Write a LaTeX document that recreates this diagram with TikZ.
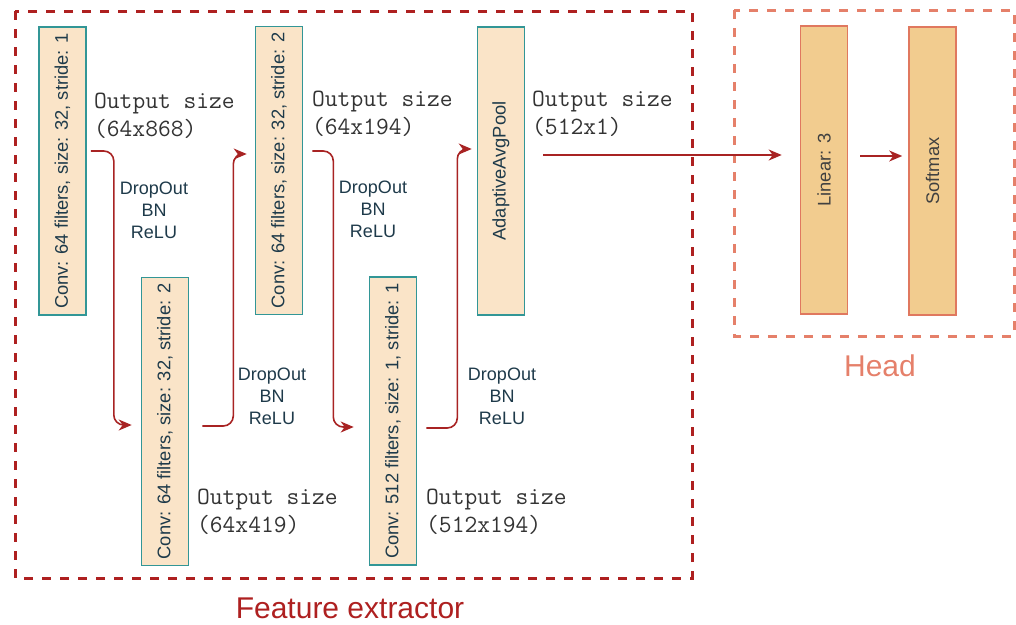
\documentclass[tikz,border=0pt]{standalone}
\usepackage{fontspec}
\setmainfont{Liberation Sans}
\usetikzlibrary{arrows.meta}
\definecolor{fered}{HTML}{AE2020}
\definecolor{headred}{HTML}{E5806A}
\definecolor{arrred}{HTML}{A82323}
\definecolor{convfill}{HTML}{FAE4C8}
\definecolor{convline}{HTML}{329696}
\definecolor{headfill}{HTML}{F2CC8F}
\definecolor{headline}{HTML}{E0785F}
\definecolor{txtdark}{HTML}{1E3A4A}
\definecolor{txtgray}{HTML}{333333}
\begin{document}
\begin{tikzpicture}[x=1pt,y=-1pt,
  convbox/.style={draw=convline, line width=1.6pt, fill=convfill, minimum width=47pt, minimum height=288pt, inner sep=0pt, text=txtdark, font=\fontsize{18.3pt}{22pt}\selectfont},
  headbox/.style={draw=headline, line width=1.6pt, fill=headfill, minimum width=47pt, minimum height=288pt, inner sep=0pt, text=black!75, font=\fontsize{18.3pt}{22pt}\selectfont},
  arr/.style={draw=arrred, line width=1.6pt, rounded corners=10pt, -{Stealth[length=13pt,width=11pt,inset=4pt]}},
  outlab/.style={anchor=west, align=left, inner sep=0pt, text=txtgray, font=\ttfamily\fontsize{24.8pt}{28pt}\selectfont},
  oplab/.style={align=center, inner sep=0pt, text=txtdark, font=\fontsize{18pt}{22pt}\selectfont},
  fedash/.style={draw=fered, line width=3pt, dash pattern=on 9pt off 9pt},
  headdash/.style={draw=headred, line width=3pt, dash pattern=on 9pt off 9pt}
]
\useasboundingbox (0,0) rectangle (1016,624);

% group frames
\draw[fedash] (15,11) rectangle (692,578);
\draw[headdash] (734,10) rectangle (1014,336);
\node[text=fered, font=\fontsize{30pt}{34pt}\selectfont, inner sep=0pt] (felab) at (350,608) {Feature extractor};
\node[text=headred, font=\fontsize{30pt}{34pt}\selectfont, inner sep=0pt] (headlab) at (880,366) {Head};

% layers
\node[convbox] (c1) at (62.5,171) {\rotatebox{90}{Conv: 64 filters, size: 32, stride: 1}};
\node[convbox] (c2) at (165,421.5) {\rotatebox{90}{Conv: 64 filters, size: 32, stride: 2}};
\node[convbox] (c3) at (279,170.5) {\rotatebox{90}{Conv: 64 filters, size: 32, stride: 2}};
\node[convbox] (c4) at (393,421) {\rotatebox{90}{Conv: 512 filters, size: 1, stride: 1}};
\node[convbox] (aap) at (501,171) {\rotatebox{90}{AdaptiveAvgPool}};
\node[headbox] (lin) at (824,170) {\rotatebox{90}{Linear: 3}};
\node[headbox] (sm) at (932.5,171) {\rotatebox{90}{Softmax}};

% output size labels
\node[outlab] (o1) at (94,116) {Output size\\(64x868)};
\node[outlab] (o2) at (312,114) {Output size\\(64x194)};
\node[outlab] (o3) at (532,114) {Output size\\(512x1)};
\node[outlab] (o4) at (197,512) {Output size\\(64x419)};
\node[outlab] (o5) at (426,512) {Output size\\(512x194)};

% operation labels
\node[oplab] (p1) at (154,210) {DropOut\\BN\\ReLU};
\node[oplab] (p2) at (272,396) {DropOut\\BN\\ReLU};
\node[oplab] (p3) at (373,209) {DropOut\\BN\\ReLU};
\node[oplab] (p4) at (502,396) {DropOut\\BN\\ReLU};

% connectors
\draw[arr] ([xshift=4pt,yshift=20pt]c1.east) -- ++(23,0) |- ([xshift=-9pt,yshift=-3.5pt]c2.west);
\draw[arr] ([xshift=13pt,yshift=-4.5pt]c2.east) -- ++(31,0) |- ([xshift=-8pt,yshift=16.5pt]c3.west);
\draw[arr] ([xshift=9pt,yshift=19.5pt]c3.east) -- ++(21,0) |- ([xshift=-15pt,yshift=-6pt]c4.west);
\draw[arr] ([xshift=9pt,yshift=-7pt]c4.east) -- ++(31,0) |- ([xshift=-5pt,yshift=22pt]aap.west);
\draw[arr] ([xshift=18pt,yshift=16pt]aap.east) -- ([xshift=-18pt,yshift=15pt]lin.west);
\draw[arr] ([xshift=12pt,yshift=14pt]lin.east) -- ([xshift=-6pt,yshift=15pt]sm.west);
\end{tikzpicture}
\end{document}
